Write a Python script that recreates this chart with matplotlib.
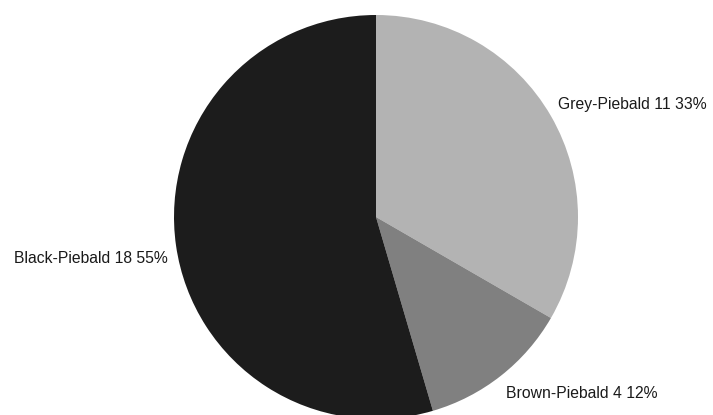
import numpy as np
import matplotlib
matplotlib.use("Agg")
import matplotlib.pyplot as plt

# dati del grafico
labels = ["Grey-Piebald", "Brown-Piebald", "Black-Piebald"]
counts = [11, 4, 18]
colors = ["#b3b3b3", "#808080", "#1c1c1c"]

W, H = 713, 415
fig = plt.figure(figsize=(W / 100, H / 100), dpi=100)
ax = fig.add_axes([0, 0, 1, 1])

cx, cy, R = 376, H - 217, 202
wedges, _ = ax.pie(counts, colors=colors, startangle=90, counterclock=False,
                   center=(cx, cy), radius=R, frame=True,
                   wedgeprops=dict(linewidth=0))
ax.set_xlim(0, W)
ax.set_ylim(0, H)
ax.axis("off")

tot = sum(counts)
for w, lab, n in zip(wedges, labels, counts):
    ang = np.deg2rad((w.theta1 + w.theta2) / 2)
    x = cx + 1.04 * R * np.cos(ang)
    y = cy + 1.04 * R * np.sin(ang)
    ha = "left" if np.cos(ang) > 0 else "right"
    if np.sin(ang) > 0:
        va = "bottom"
    else:
        va = "top"
        y -= 4
    ax.text(x, y, f"{lab} {n} {round(100 * n / tot)}%", ha=ha, va=va,
            fontsize=11.3, family="Liberation Sans", color="#1a1a1a")

fig.savefig("out.png", dpi=100)
